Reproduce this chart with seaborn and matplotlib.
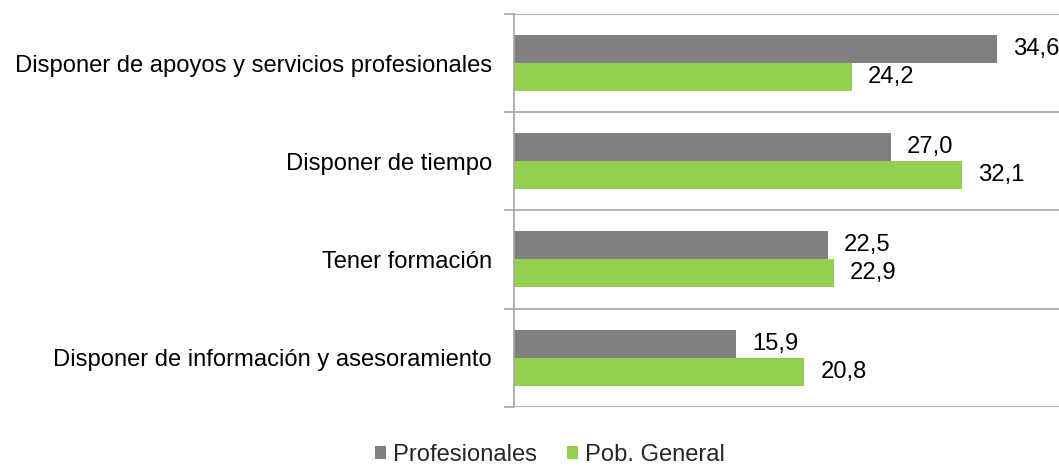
import matplotlib
matplotlib.use("Agg")
import matplotlib.pyplot as plt
from matplotlib.ticker import FixedLocator
import seaborn as sns
import pandas as pd

categories = [
    "Disponer de apoyos y servicios profesionales",
    "Disponer de tiempo",
    "Tener formación",
    "Disponer de información y asesoramiento",
]
series_names = ["Profesionales", "Pob. General"]
profesionales = [34.6, 27.0, 22.5, 15.9]
pob_general = [24.2, 32.1, 22.9, 20.8]
colors = ["#808080", "#92D050"]

df = pd.DataFrame({
    "categoria": categories * 2,
    "grupo": [series_names[0]] * len(categories) + [series_names[1]] * len(categories),
    "valor": profesionales + pob_general,
})

sns.set_theme(style="white")
plt.rcParams["font.family"] = ["Liberation Sans", "DejaVu Sans"]

FS = 17.1

fig = plt.figure(figsize=(10.59, 4.66), dpi=100)
ax = fig.add_axes([514 / 1059, 1 - 406.7 / 466, 1 - 514 / 1059, (406.7 - 14) / 466])

sns.barplot(data=df, y="categoria", x="valor", hue="grupo", order=categories,
            hue_order=series_names, palette=colors, orient="h", width=0.57,
            saturation=1, linewidth=0, ax=ax, legend=True)

for cont in ax.containers:
    ax.bar_label(cont, labels=[f"{v:.1f}".replace(".", ",") for v in cont.datavalues],
                 padding=11.5, fontsize=FS, color="#000000")

ax.set_xlim(0, 39.04)
ax.set_ylim(3.5, -0.5)
ax.set_xlabel("")
ax.set_ylabel("")
ax.set_xticks([])

# boundaries between categories: gridlines and outward ticks
ax.yaxis.set_minor_locator(FixedLocator([-0.5, 0.5, 1.5, 2.5, 3.5]))
ax.tick_params(axis="y", which="major", left=False, length=0, pad=16,
               labelsize=FS, labelcolor="#000000")
ax.tick_params(axis="y", which="minor", left=True, length=7, width=1.2,
               color="#a6a6a6", direction="out")
ax.grid(False)
ax.grid(True, axis="y", which="minor", color="#a6a6a6", linewidth=1.2)

for side in ["top", "right", "bottom"]:
    ax.spines[side].set_visible(False)
ax.spines["left"].set_color("#a6a6a6")
ax.spines["left"].set_linewidth(1.2)

handles, labels = ax.get_legend_handles_labels()
ax.legend_.remove()
fig.legend(handles, labels, loc="center", bbox_to_anchor=(550 / 1059, 1 - 455 / 466),
           ncol=2, frameon=False, fontsize=FS, handlelength=0.47, handleheight=0.47,
           handletextpad=0.3, columnspacing=1.25, borderaxespad=0)

fig.savefig("out.png", dpi=100)
